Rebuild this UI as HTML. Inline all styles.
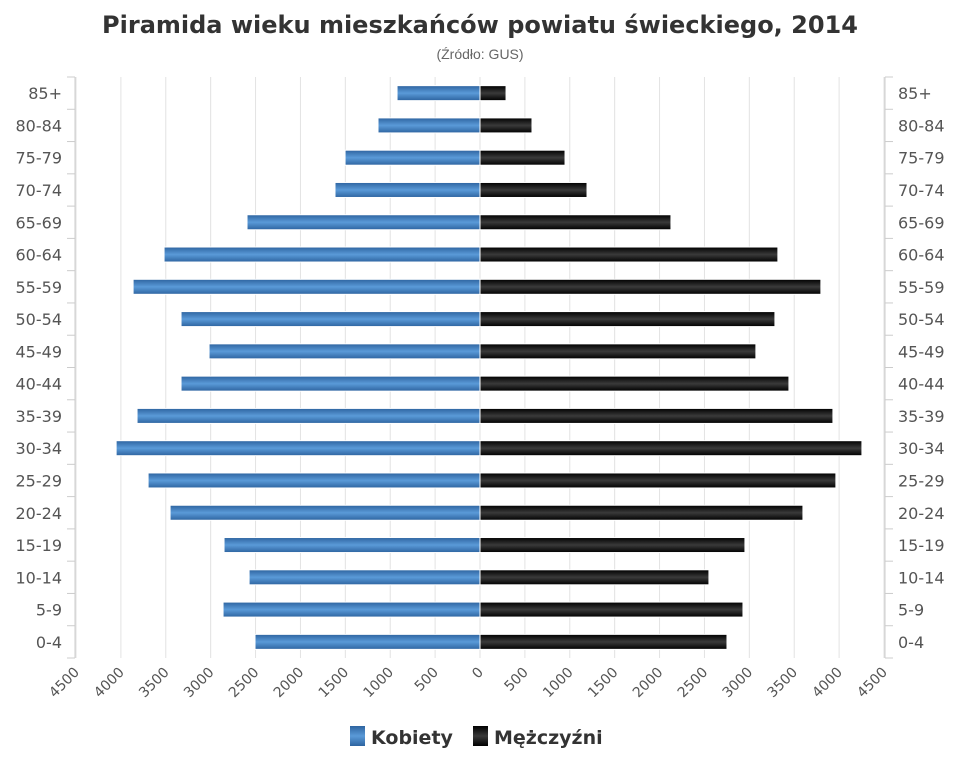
<!DOCTYPE html>
<html><head><meta charset="utf-8"><style>
body{margin:0;background:#fff;font-family:"Liberation Sans","DejaVu Sans",sans-serif}
</style></head><body>
<svg id="c" width="960" height="768" xmlns="http://www.w3.org/2000/svg">
<defs>
<linearGradient id="gb" x1="0" y1="0" x2="0" y2="1"><stop offset="0" stop-color="#2e64a0"/><stop offset="0.5" stop-color="#5a9ad8"/><stop offset="1" stop-color="#2e64a0"/></linearGradient>
<linearGradient id="gk" x1="0" y1="0" x2="0" y2="1"><stop offset="0" stop-color="#000"/><stop offset="0.5" stop-color="#3a3a3a"/><stop offset="1" stop-color="#000"/></linearGradient>
</defs>
<text x="480" y="33" text-anchor="middle" font-size="24" font-weight="bold" fill="#333" font-family="DejaVu Sans, sans-serif">Piramida wieku mieszkańców powiatu świeckiego, 2014</text>
<text x="480" y="59" text-anchor="middle" font-size="14" fill="#666">(Źródło: GUS)</text>
<g id="g"></g>
<g font-family="DejaVu Sans, sans-serif">
<rect x="350" y="726" width="15" height="20" fill="url(#gb)"/>
<text x="371" y="744" font-size="19" font-weight="bold" fill="#333">Kobiety</text>
<rect x="473" y="726" width="15" height="20" fill="url(#gk)"/>
<text x="494" y="744" font-size="19" font-weight="bold" fill="#333">Mężczyźni</text>
</g>
</svg>
<script>
const categories=["85+","80-84","75-79","70-74","65-69","60-64","55-59","50-54","45-49","40-44","35-39","30-34","25-29","20-24","15-19","10-14","5-9","0-4"];
const women=[924,1136,1503,1615,2595,3519,3864,3330,3018,3330,3820,4053,3697,3452,2851,2572,2862,2506];
const men=[290,579,947,1192,2127,3318,3797,3285,3073,3441,3931,4254,3964,3597,2951,2550,2929,2751];
const ticks=[4500,4000,3500,3000,2500,2000,1500,1000,500,0,500,1000,1500,2000,2500,3000,3500,4000,4500];
const NS="http://www.w3.org/2000/svg";
const g=document.getElementById('g');
const x0=480,k=404/4500,topY=77,botY=658;
const rowH=(botY-topY)/categories.length;
const xs=v=>x0+v*k;
const yc=i=>topY+rowH*(i+0.5);
function el(t,a,txt){const e=document.createElementNS(NS,t);for(const n in a)e.setAttribute(n,a[n]);if(txt!=null)e.textContent=txt;g.appendChild(e);return e;}
ticks.forEach((t,i)=>{const v=(i<9?-t:t);const x=xs(v);
 const l=el('line',{x1:x,y1:topY,x2:x,y2:botY,stroke:'#e2e2e2','stroke-width':1});
 
 
 const tx=el('text',{x:x+4,y:botY+15,'font-size':14,fill:'#555','font-family':'DejaVu Sans, sans-serif','text-anchor':'end',transform:`rotate(-45 ${x+4} ${botY+15})`},String(t));
 
 
});
[[75,-8,62,'end'],[885,8,898,'start']].forEach(([ax,d,tx,an])=>{
 const a=el('line',{x1:ax,y1:topY,x2:ax,y2:botY,stroke:'#ccc'});
 
 
 for(let i=0;i<=categories.length;i++){const y=topY+rowH*i;const t=el('line',{x1:ax,y1:y,x2:ax+d,y2:y,stroke:'#ccc'});
  
  }
 categories.forEach((c,i)=>{const t=el('text',{x:tx,y:yc(i)+6,'font-size':16,fill:'#555','font-family':'DejaVu Sans, sans-serif','text-anchor':an},c);
  
  });
});
const bh=15;
categories.forEach((c,i)=>{
 const w=el('rect',{x:xs(-women[i]),y:yc(i)-bh/2,width:xs(0)-xs(-women[i]),height:bh,fill:'url(#gb)',stroke:'#fff','stroke-width':1});
 
 
 const m=el('rect',{x:xs(0),y:yc(i)-bh/2,width:xs(men[i])-xs(0),height:bh,fill:'url(#gk)',stroke:'#fff','stroke-width':1});
 
 
});
</script>
</body></html>
